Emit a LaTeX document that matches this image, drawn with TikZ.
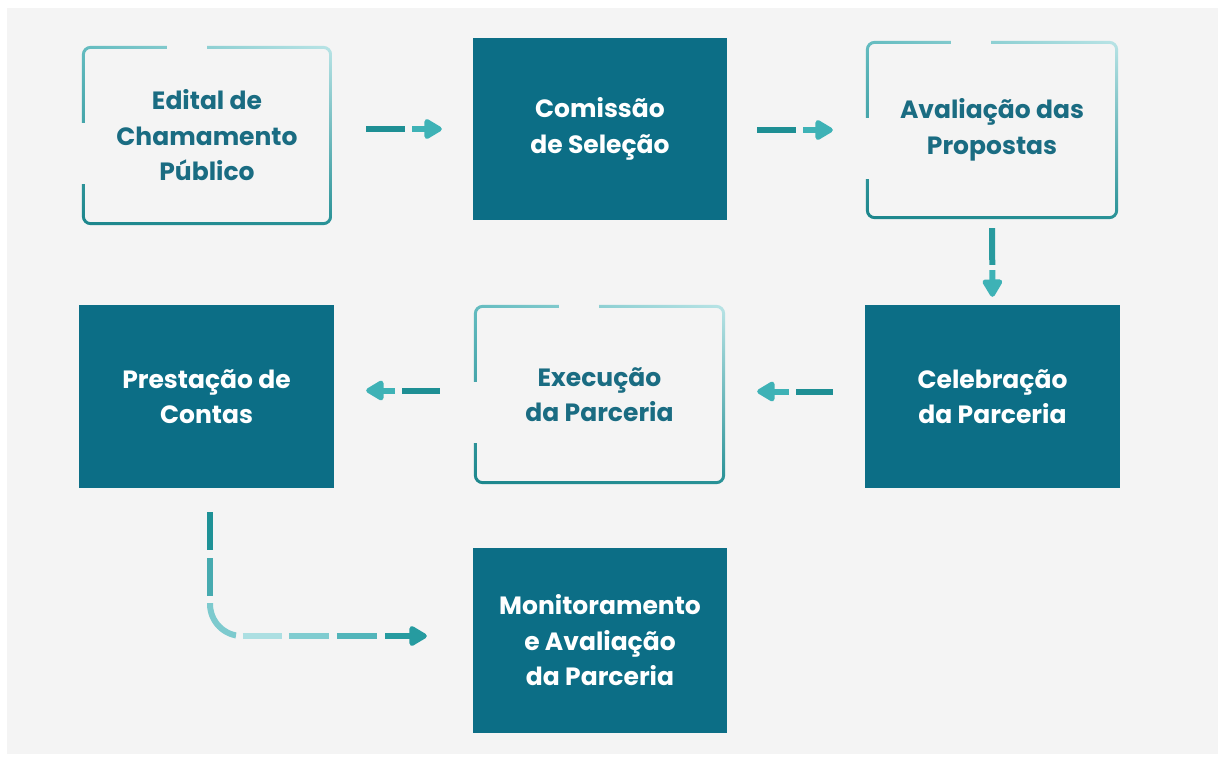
\documentclass[tikz,border=0pt]{standalone}
\usepackage{fontspec}
\setmainfont{Poppins}
\usetikzlibrary{arrows.meta,calc,shadings}
\definecolor{bgc}{RGB}{244,244,244}
\definecolor{fillteal}{RGB}{12,110,134}
\definecolor{textteal}{RGB}{26,108,130}
\definecolor{olUL}{RGB}{100,188,192}
\definecolor{olUR}{RGB}{185,228,230}
\definecolor{olLL}{RGB}{28,134,140}
\definecolor{olLR}{RGB}{40,145,150}
\definecolor{dashdark}{RGB}{30,143,148}
\definecolor{headc}{RGB}{62,178,182}
\definecolor{lA}{RGB}{30,145,150}
\definecolor{lB}{RGB}{70,170,175}
\definecolor{lC}{RGB}{125,202,206}
\definecolor{lD}{RGB}{172,223,226}
\definecolor{lE}{RGB}{128,204,208}
\definecolor{lF}{RGB}{82,181,186}
\definecolor{lG}{RGB}{38,155,160}
\newcommand\oboxframe[1]{%
  \shade[even odd rule, upper left=olUL, upper right=olUR, lower left=olLL, lower right=olLR, rounded corners=9pt]
    (#1.south west) rectangle (#1.north east)
    [rounded corners=6pt] ($(#1.south west)+(3,-3)$) rectangle ($(#1.north east)+(-3,3)$);
  \fill[bgc] ($(#1.north west)+(85,-4)$) rectangle ($(#1.north west)+(125,5)$);
  \fill[bgc] ($(#1.north west)+(-4,77)$) rectangle ($(#1.north west)+(5,138)$);
}
\begin{document}
\begin{tikzpicture}[x=1pt,y=-1pt,
  boxtext/.style={inner sep=0pt, align=center, font=\bfseries\fontsize{25}{35.5}\selectfont},
  filledbox/.style={boxtext, fill=fillteal, text=white},
  framebox/.style={boxtext, text=textteal},
  dashseg/.style={line width=6pt, line cap=butt},
  headseg/.style={line width=6pt, line cap=butt, -{Triangle[length=20pt, width=22pt, round]}}
]
\useasboundingbox (0,0) rectangle (1218,758);
\fill[white] (0,0) rectangle (1218,758);
\fill[bgc] (7,8) rectangle (1218,754);

% nodes
\node[framebox, minimum width=250pt, minimum height=179pt] (A) at (207,135.5) {Edital de\\Chamamento\\Público};
\node[filledbox, minimum width=254pt, minimum height=182pt] (B) at (600,129) {Comissão\\de Seleção};
\node[framebox, minimum width=252pt, minimum height=178pt] (C) at (992,130) {Avaliação das\\Propostas};
\node[filledbox, minimum width=255pt, minimum height=183pt] (D) at (992.5,396.5) {Celebração\\da Parceria};
\node[framebox, minimum width=251pt, minimum height=179pt] (E) at (599.5,394.5) {Execução\\da Parceria};
\node[filledbox, minimum width=255pt, minimum height=183pt] (F) at (206.5,396.5) {Prestação de\\Contas};
\node[filledbox, minimum width=254pt, minimum height=185pt] (G) at (600,640.5) {Monitoramento\\e Avaliação\\da Parceria};

\oboxframe{A}
\oboxframe{C}
\oboxframe{E}

% A -> B
\draw[dashseg, dashdark, shorten <=34pt, shorten >=68pt] (B.west -| A.east) -- (B.west);
\draw[headseg, headc, shorten <=80pt, shorten >=31pt] (B.west -| A.east) -- (B.west);
% B -> C
\draw[dashseg, dashdark, shorten <=30pt, shorten >=70pt] (C.west -| B.east) -- (C.west);
\draw[headseg, headc, shorten <=76pt, shorten >=33pt] (C.west -| B.east) -- (C.west);
% C -> D
\draw[dashseg, dashdark!70!headc, shorten <=9pt, shorten >=40pt] (C.south) -- (D.north);
\draw[headseg, headc, shorten <=51pt, shorten >=8pt] (C.south) -- (D.north);
% D -> E
\coordinate (Dw) at ([yshift=5pt]D.west);
\coordinate (Ee) at ([yshift=5pt]E.east -| E.east);
\draw[dashseg, dashdark, shorten <=32pt, shorten >=71pt] (Dw) -- (Dw -| E.east);
\draw[headseg, headc, shorten <=76pt, shorten >=32pt] (Dw) -- (Dw -| E.east);
% E -> F
\coordinate (Ew) at ([yshift=4pt]E.west);
\draw[dashseg, dashdark, shorten <=34pt, shorten >=68pt] (Ew) -- (Ew -| F.east);
\draw[headseg, headc, shorten <=79pt, shorten >=32pt] (Ew) -- (Ew -| F.east);
% F -> G
\coordinate (Fs) at ([xshift=3.5pt]F.south);
\coordinate (Gw) at ([yshift=4.5pt]G.west);
\draw[dashseg, lA, rounded corners=32pt, dash pattern=on 0pt off 24pt on 38pt off 2000pt] (Fs) |- (Gw);
\draw[dashseg, lB, rounded corners=32pt, dash pattern=on 0pt off 70pt on 38pt off 2000pt] (Fs) |- (Gw);
\draw[dashseg, lC, rounded corners=32pt, dash pattern=on 0pt off 115pt on 45pt off 2000pt] (Fs) |- (Gw);
\draw[dashseg, lD, rounded corners=32pt, dash pattern=on 0pt off 167pt on 39pt off 2000pt] (Fs) |- (Gw);
\draw[dashseg, lE, rounded corners=32pt, dash pattern=on 0pt off 213pt on 40pt off 2000pt] (Fs) |- (Gw);
\draw[dashseg, lF, rounded corners=32pt, dash pattern=on 0pt off 261pt on 40pt off 2000pt] (Fs) |- (Gw);
\draw[headseg, lG, shorten <=175pt, shorten >=46pt] (Fs |- Gw) -- (Gw);
\end{tikzpicture}
\end{document}
